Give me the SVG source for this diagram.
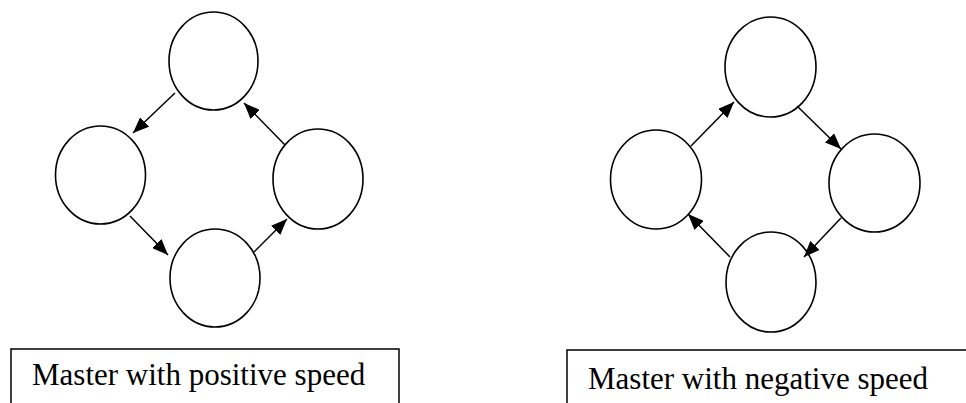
<svg xmlns="http://www.w3.org/2000/svg" width="966" height="403" viewBox="0 0 966 403">
<style>
.node{fill:#fff;stroke:#000;stroke-width:1.6}
.edge{stroke:#000;stroke-width:1.5;fill:none;marker-end:url(#ah)}
.box{fill:#fff;stroke:#000;stroke-width:1.5}
.lbl{font-family:"Liberation Serif","Times New Roman",serif;font-size:31px;fill:#000}
</style>
<defs>
<marker id="ah" markerUnits="userSpaceOnUse" markerWidth="17" markerHeight="13" refX="16" refY="6.5" orient="auto">
<path d="M0,0 L16,6.5 L0,13 z" fill="#000"/>
</marker>
</defs>
<rect width="966" height="403" fill="#fff"/>
<g id="pos-top"><ellipse class="node" cx="213.5" cy="61" rx="44.5" ry="49"/></g>
<g id="pos-left"><ellipse class="node" cx="100.5" cy="175" rx="45" ry="49"/></g>
<g id="pos-right"><ellipse class="node" cx="318" cy="179" rx="45" ry="50"/></g>
<g id="pos-bottom"><ellipse class="node" cx="215" cy="278" rx="45" ry="49"/></g>
<g id="neg-top"><ellipse class="node" cx="770.5" cy="67" rx="45.5" ry="50"/></g>
<g id="neg-left"><ellipse class="node" cx="656" cy="179.5" rx="45.5" ry="49.5"/></g>
<g id="neg-right"><ellipse class="node" cx="874.5" cy="183" rx="45.5" ry="49"/></g>
<g id="neg-bottom"><ellipse class="node" cx="771" cy="282" rx="45" ry="50"/></g>
<g id="connectors">
<line class="edge" x1="175" y1="93" x2="133" y2="133"/>
<line class="edge" x1="130" y1="216" x2="168" y2="255"/>
<line class="edge" x1="254" y1="252" x2="287" y2="219"/>
<line class="edge" x1="285" y1="145" x2="244" y2="103"/>
<line class="edge" x1="691" y1="146" x2="734" y2="102"/>
<line class="edge" x1="797" y1="106" x2="841" y2="149"/>
<line class="edge" x1="841" y1="218" x2="804" y2="257"/>
<line class="edge" x1="730" y1="257" x2="688" y2="214"/>
</g>
<g id="label-pos">
<rect class="box" x="11" y="349" width="388" height="70"/>
<text class="lbl" x="32" y="385">Master with positive speed</text>
</g>
<g id="label-neg">
<rect class="box" x="567" y="350" width="410" height="70"/>
<text class="lbl" x="588" y="389">Master with negative speed</text>
</g>
</svg>
